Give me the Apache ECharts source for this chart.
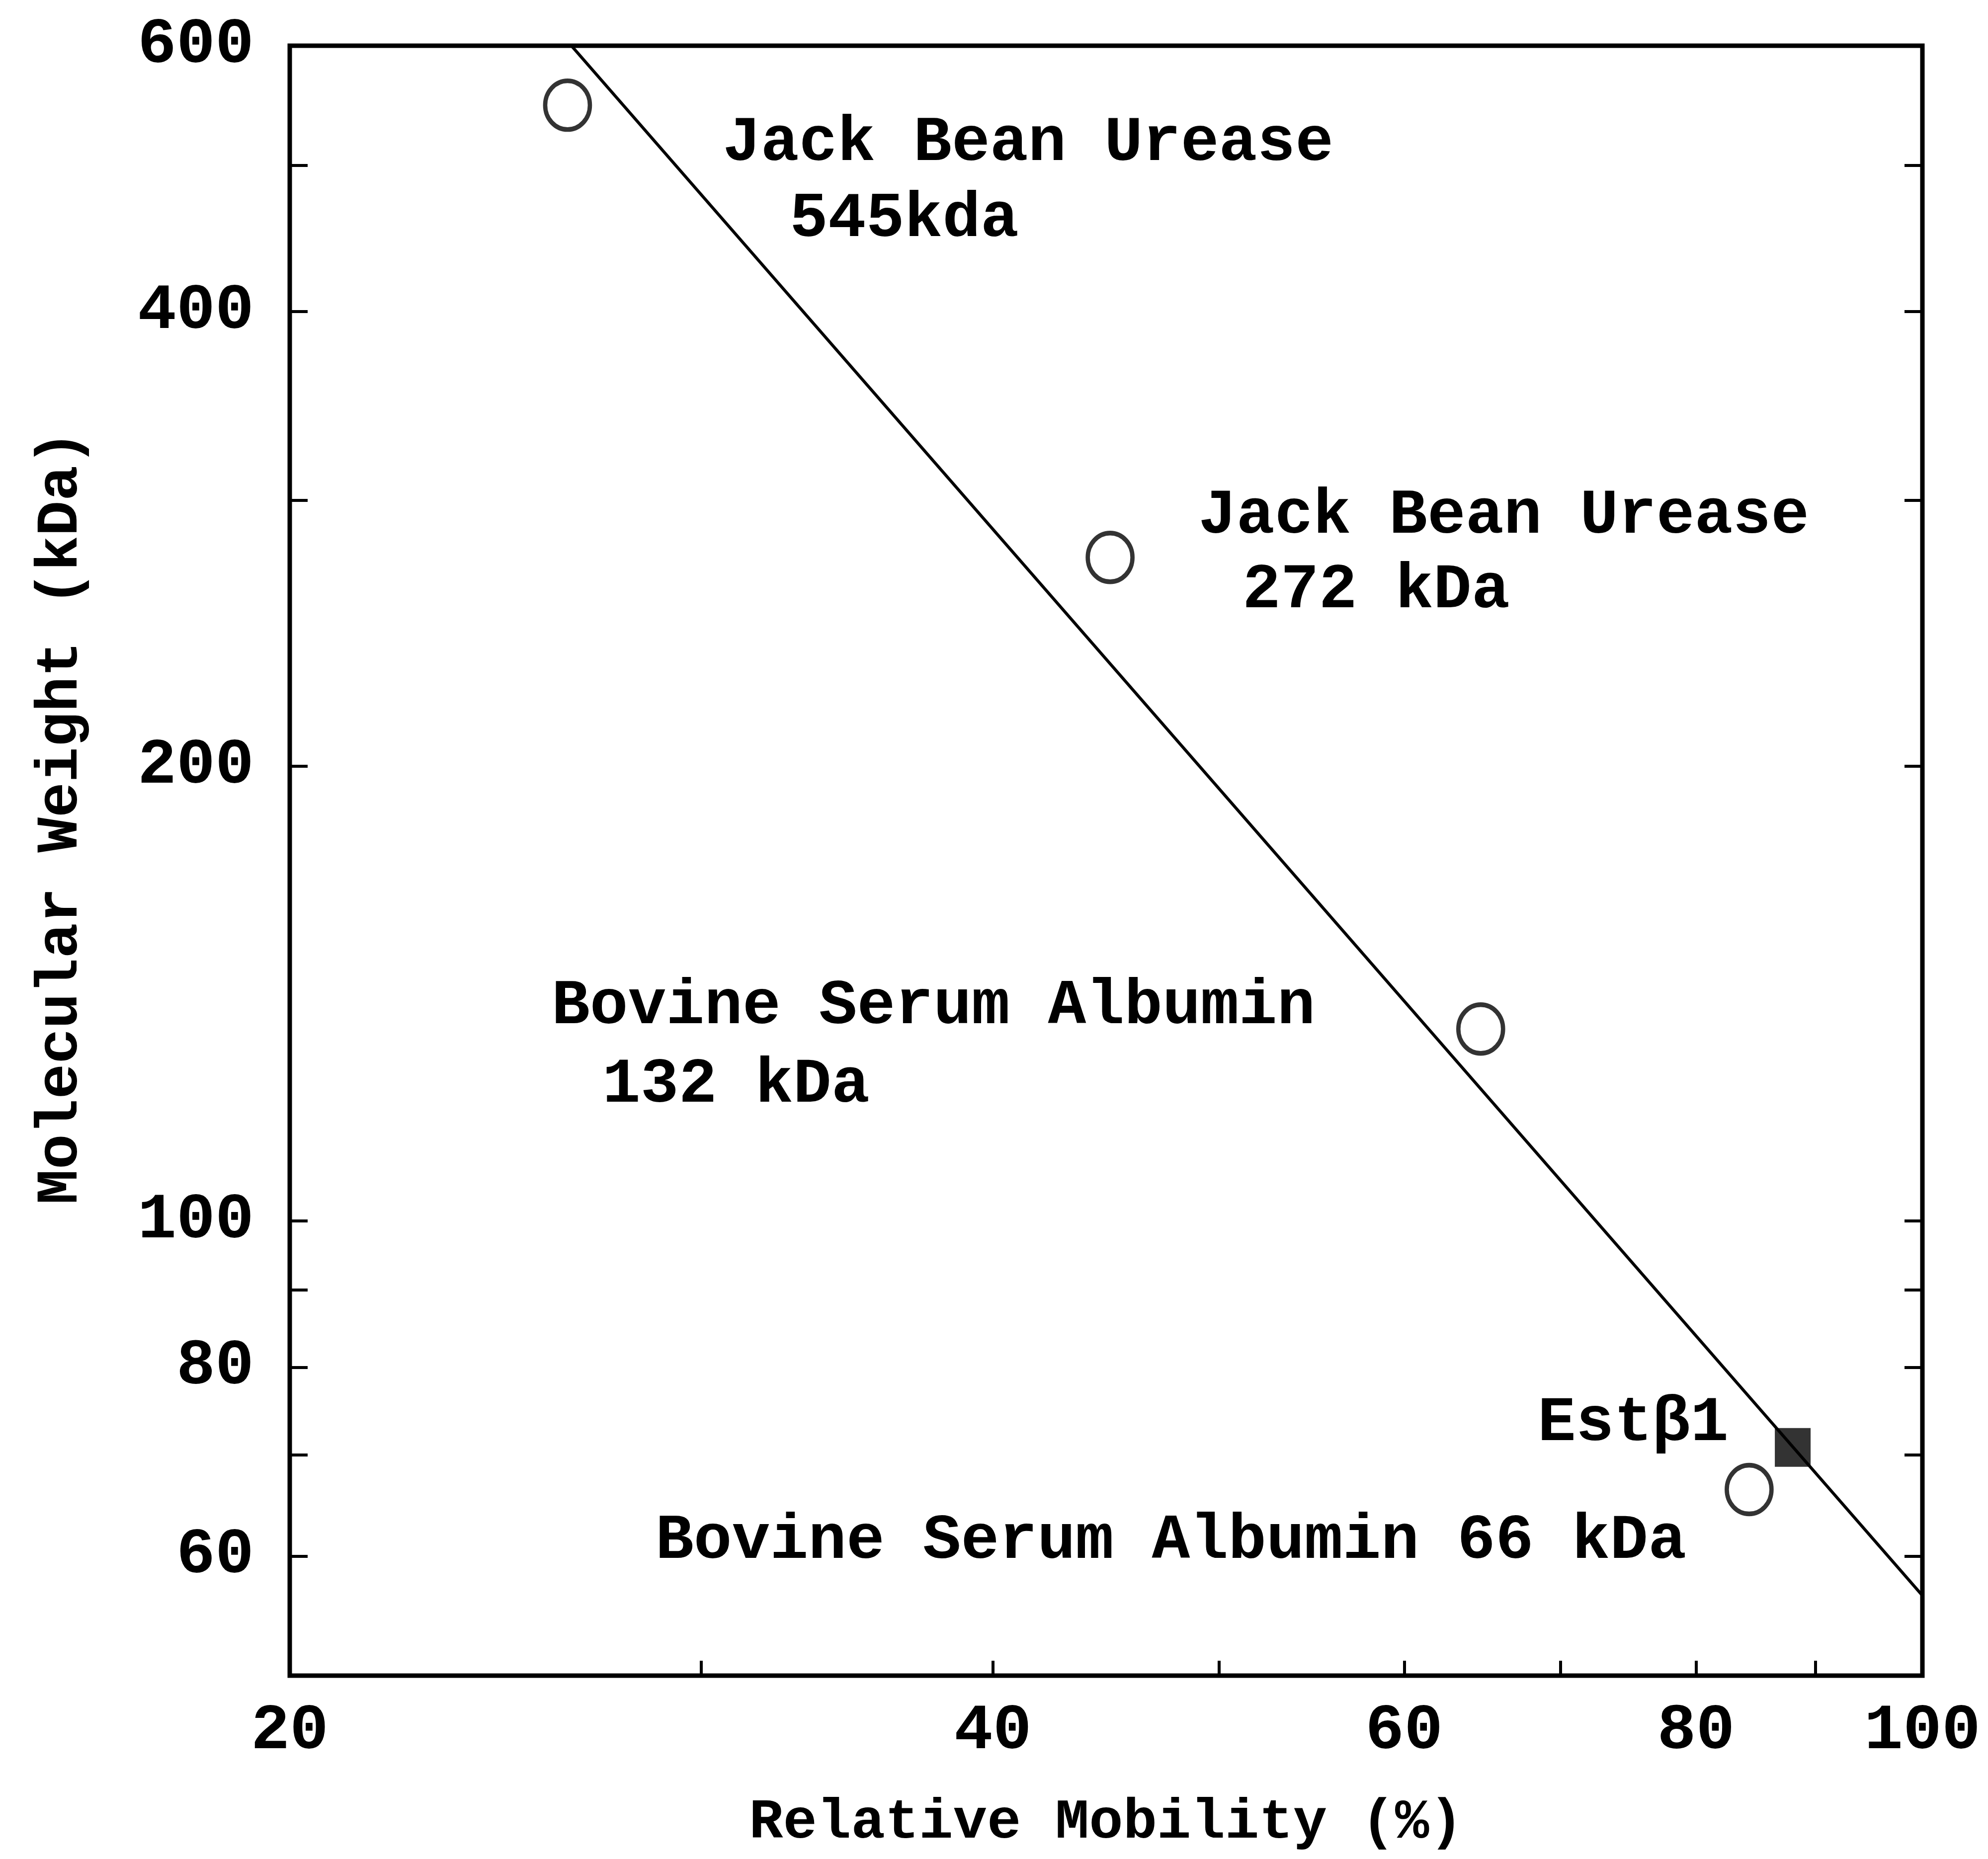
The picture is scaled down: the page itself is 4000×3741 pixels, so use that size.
<!DOCTYPE html>
<html>
<head>
<meta charset="utf-8">
<script src="https://cdn.jsdelivr.net/npm/echarts@6/dist/echarts.min.js"></script>
<style>
html,body{margin:0;padding:0;background:#fff;}
#chart{width:4000px;height:3741px;}
</style>
</head>
<body>
<div id="chart"></div>
<script>
// ---- data ----
const standardMobility = [26.3, 44.9, 64.7, 84.3];
const standardWeight   = [548, 275, 134, 66.4];
const unknownMobility  = [88.0];
const unknownWeight    = [70.8];
const fitMobility = [26.4, 100];
const fitWeight   = [600, 56.5];
const xTickValues  = [30, 40, 50, 60, 70, 80, 90];
const xLabelValues = [20, 40, 60, 80, 100];
const yTickValues  = [60, 70, 80, 90, 100, 200, 300, 400, 500];
const yLabelValues = [60, 80, 100, 200, 400, 600];
const annotations = [
  'Jack Bean Urease', '545kda',
  'Jack Bean Urease', '272 kDa',
  'Bovine Serum Albumin', '132 kDa',
  'Estβ1',
  'Bovine Serum Albumin 66 kDa'
];
const xTitle = 'Relative Mobility (%)';
const yTitle = 'Molecular Weight (kDa)';

// ---- chart ----
const FONT = 'Liberation Mono';
const chart = echarts.init(document.getElementById('chart'), null, {renderer: 'canvas'});

const annPos = [
  [1454, 290], [1589, 443],
  [2411, 1040], [2500, 1190],
  [1110, 2027], [1212, 2185],
  [3094, 2866],
  [1319, 3103]
];

const tickLabelStyle = {color: '#000', fontFamily: FONT, fontWeight: 'bold', fontSize: 130};

const option = {
  backgroundColor: '#fff',
  animation: false,
  grid: {left: 583, top: 92, width: 3285, height: 3280, show: true, borderColor: '#000', borderWidth: 9, backgroundColor: 'transparent'},
  xAxis: [{
    type: 'log', logBase: 10, min: 20, max: 100, position: 'bottom',
    axisLine: {show: false},
    splitLine: {show: false},
    minorTick: {show: false},
    axisTick: {show: true, inside: true, length: 30, lineStyle: {color: '#000', width: 6}, customValues: xTickValues},
    axisLabel: Object.assign({margin: 48, customValues: xLabelValues, showMinLabel: true, showMaxLabel: true}, tickLabelStyle),
    name: xTitle, nameLocation: 'middle', nameGap: 240,
    nameTextStyle: {color: '#000', fontFamily: FONT, fontWeight: 'bold', fontSize: 114}
  }],
  yAxis: [{
    type: 'log', logBase: 10, min: 50, max: 600, position: 'left',
    axisLine: {show: false},
    splitLine: {show: false},
    minorTick: {show: false},
    axisTick: {show: true, inside: true, length: 36, lineStyle: {color: '#000', width: 6}, customValues: yTickValues},
    axisLabel: Object.assign({margin: 72, customValues: yLabelValues, showMinLabel: true, showMaxLabel: true}, tickLabelStyle),
    name: yTitle, nameLocation: 'middle', nameGap: 400, nameRotate: 90,
    nameTextStyle: {color: '#000', fontFamily: FONT, fontWeight: 'bold', fontSize: 118, padding: [0, 0, 0, 174]}
  }, {
    type: 'log', logBase: 10, min: 50, max: 600, position: 'right',
    axisLine: {show: false},
    splitLine: {show: false},
    minorTick: {show: false},
    axisTick: {show: true, inside: true, length: 36, lineStyle: {color: '#000', width: 6}, customValues: yTickValues},
    axisLabel: {show: false}
  }],
  series: [{
    type: 'line',
    data: fitMobility.map((x, i) => [x, fitWeight[i]]),
    showSymbol: false, symbol: 'none',
    lineStyle: {color: '#000', width: 6},
    z: 1
  }, {
    type: 'scatter',
    data: standardMobility.map((x, i) => [x, standardWeight[i]]),
    symbol: 'circle', symbolSize: [90, 98],
    itemStyle: {color: '#fff', borderColor: '#000', borderWidth: 9},
    z: 3
  }, {
    type: 'scatter',
    data: unknownMobility.map((x, i) => [x, unknownWeight[i]]),
    symbol: 'rect', symbolSize: [72, 78],
    itemStyle: {color: '#000'},
    z: 3
  }],
  graphic: annotations.map((t, i) => ({
    type: 'text',
    x: annPos[i][0], y: annPos[i][1],
    z: 10,
    style: {text: t, fill: '#000', font: 'bold 128px "' + FONT + '"', align: 'left', verticalAlign: 'middle'}
  }))
};
chart.setOption(option);
</script>
</body>
</html>
